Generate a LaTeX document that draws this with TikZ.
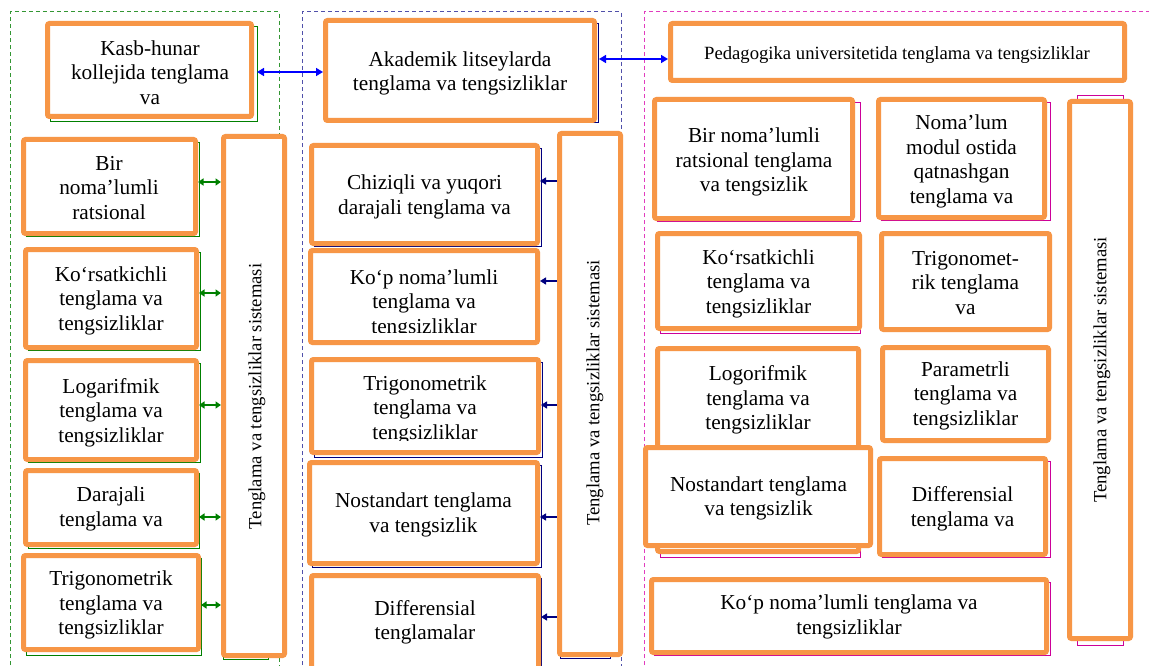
\documentclass[tikz,border=0pt]{standalone}
\usepackage{fontspec}
\setmainfont{Liberation Serif}
\usetikzlibrary{arrows.meta,calc}
\definecolor{orng}{HTML}{F79646}
\definecolor{gframe}{RGB}{51,150,51}
\definecolor{bframe}{RGB}{80,80,170}
\definecolor{mframe}{RGB}{225,60,190}
\definecolor{gshad}{RGB}{0,128,0}
\definecolor{nshad}{RGB}{0,0,128}
\definecolor{mshad}{RGB}{204,0,153}
\definecolor{barrow}{RGB}{0,0,255}
\definecolor{garrow}{RGB}{0,128,0}
\definecolor{narrow}{RGB}{0,0,128}
% name, L, T, R, B, shadow style, shadow dx, shadow dy
\newcommand\obx[8]{%
  \draw[#6, line width=0.9pt] (#2+5,#3+5) rectangle (#4+#7,#5+#8);
  \node[obox, minimum width={(#4-#2-5)*1pt}, minimum height={(#5-#3-5)*1pt}] (#1) at ({(#2+#4)/2},{(#3+#5)/2}) {};
}
\begin{document}
\begin{tikzpicture}[x=1pt,y=-1pt,
  obox/.style={draw=orng, line width=5pt, rounded corners=2pt, fill=white, inner sep=0pt},
  txt/.style={font=\fontsize{21.3}{24.5}\selectfont, align=center, inner sep=0pt},
  stxt/.style={font=\fontsize{18.67}{21.5}\selectfont, align=center, inner sep=0pt},
  vtxt/.style={font=\fontsize{18.67}{21.5}\selectfont, rotate=90, inner sep=0pt},
  frame/.style={line width=1pt, dash pattern=on 4pt off 3pt},
  barr/.style={draw=barrow, line width=1.6pt, {Triangle[length=7pt,width=8pt]}-{Triangle[length=7pt,width=8pt]}},
  garr/.style={draw=garrow, line width=1.6pt, {Triangle[length=5.5pt,width=7pt]}-{Triangle[length=5.5pt,width=7pt]}},
  narr/.style={draw=narrow, line width=1.4pt, -{Triangle[length=6pt,width=7pt]}}
]
\useasboundingbox (0,0) rectangle (1149,666);
\clip (0,0) rectangle (1149,666);
\fill[white] (0,0) rectangle (1149,666);
% dashed frames
\draw[frame, gframe] (10,700) -- (10,12) -- (279,12) -- (279,700);
\draw[frame, bframe] (302,700) -- (302,12) -- (621,12) -- (621,700);
\draw[frame, mframe] (644,700) -- (644,12) -- (1160,12);
% top boxes
\obx{kasb}{45}{21}{254}{119}{gshad}{3}{2.3}
\obx{akad}{323}{18}{597}{123}{nshad}{1.7}{-1}
\obx{ped}{668}{21}{1127}{83}{draw=none}{0}{0}
% left column
\obx{L1}{21}{137}{198}{236}{gshad}{1.5}{0}
\obx{L2}{23}{247}{199}{350}{gshad}{1.2}{0}
\obx{L3}{23}{358}{199}{462}{gshad}{1.2}{0}
\obx{L4}{23}{468}{199}{547}{gshad}{0.5}{1}
\obx{L5}{21}{553}{201}{652}{gshad}{0}{3}
\draw[gshad, line width=0.9pt] (223,140) rectangle (268,659.5);
\obx{LV}{221}{134}{287}{658}{draw=none}{0}{0}
% middle column
\obx{M1}{309}{143}{540}{246}{nshad}{1}{0}
\obx{M2}{308}{248}{540}{345}{draw=none}{0}{0}
\obx{M3}{309}{357}{541}{455}{nshad}{1.5}{2}
\obx{M4}{307}{460}{540}{566}{nshad}{1}{1}
\obx{M5}{309}{573}{541}{680}{nshad}{0.7}{0}
\draw[nshad, line width=0.9pt] (560,140) rectangle (610,658.3);
\obx{MV}{557}{131}{623}{657}{draw=none}{0}{0}
% right column
\obx{R1}{652}{97}{855}{221}{mshad}{5}{0}
\obx{R2}{876}{97}{1047}{220}{mshad}{3}{0}
\draw[mshad, line width=1pt] (1077,96) rectangle (1123,645);
\obx{RV}{1067}{99}{1133}{641}{draw=none}{0}{0}
\obx{R3}{655}{231}{862}{331}{mshad}{-2}{2.3}
\obx{R4}{879}{231}{1052}{332}{draw=none}{0}{0}
\obx{R5}{655}{346}{861}{554}{mshad}{-1}{3.3}
\obx{R6}{880}{345}{1051}{443}{draw=none}{0}{0}
\obx{R7}{643}{445}{873}{548}{draw=none}{0}{0}
\obx{R8}{877}{456}{1048}{557}{mshad}{2.7}{0}
\obx{R9}{649}{577}{1049}{655}{mshad}{1}{0}
% texts
\node[txt] (tkasb) at (150,72.3) {Kasb-hunar\\kollejida tenglama\\va};
\node[txt] (takad) at (460,73.5) {Akademik litseylarda\\tenglama va tengsizliklar};
\node[stxt] (tped) at (897,55) {Pedagogika universitetida tenglama va tengsizliklar};
\node[txt] (tL1) at (109,187.8) {Bir\\noma’lumli\\ratsional};
\node[txt] (tL2) at (111,300.5) {Ko‘rsatkichli\\tenglama va\\tengsizliklar};
\node[txt] (tL3) at (111,412.5) {Logarifmik\\tenglama va\\tengsizliklar};
\node[txt] (tL4) at (111,509) {Darajali\\tenglama va};
\node[txt] (tL5) at (111,605) {Trigonometrik\\tenglama va\\tengsizliklar};
\node[vtxt] (tLV) at (257,396.5) {Tenglama va tengsizliklar sistemasi};
\node[txt] (tM1) at (424.5,196.7) {Chiziqli va yuqori\\darajali tenglama va};
\begin{scope}
\clip (310,250) rectangle (540,332.5);
\node[txt] (tM2) at (424,303.5) {Ko‘p noma’lumli\\tenglama va\\tengsizliklar};
\end{scope}
\begin{scope}
\clip (310,359) rectangle (540,440.3);
\node[txt] (tM3) at (425,409.5) {Trigonometrik\\tenglama va\\tengsizliklar};
\end{scope}
\node[txt] (tM4) at (423.5,515) {Nostandart tenglama\\va tengsizlik};
\node[txt] (tM5) at (425,622.2) {Differensial\\tenglamalar};
\node[vtxt] (tMV) at (595,393) {Tenglama va tengsizliklar sistemasi};
\node[txt] (tR1) at (754,162.2) {Bir noma’lumli\\ratsional tenglama\\va tengsizlik};
\node[txt] (tR2) at (961.5,161.4) {Noma’lum\\modul ostida\\qatnashgan\\tenglama va};
\node[txt] (tR3) at (758.5,283.9) {Ko‘rsatkichli\\tenglama va\\tengsizliklar};
\node[txt] (tR4) at (965.5,282.7) {Trigonomet-\\rik tenglama\\va};
\node[txt] (tR5) at (758,400) {Logorifmik\\tenglama va\\tengsizliklar};
\node[txt] (tR6) at (965.5,395.9) {Parametrli\\tenglama va\\tengsizliklar};
\node[txt] (tR7) at (758.5,498.4) {Nostandart tenglama\\va tengsizlik};
\node[txt] (tR8) at (962.5,508.9) {Differensial\\tenglama va};
\node[txt] (tR9) at (849,616.7) {Ko‘p noma’lumli tenglama va\\tengsizliklar};
\node[vtxt] (tRV) at (1102,370) {Tenglama va tengsizliklar sistemasi};
% connectors
\draw[barr, shorten <=3pt] (kasb.east |- 0,72) -- (akad.west |- 0,72);
\draw[barr, shorten <=2pt] (akad.east |- 0,59) -- (ped.west |- 0,59);
\foreach \b/\yy in {L1/182, L2/293, L3/405, L4/517, L5/605}
  \draw[garr] (\b.east |- 0,\yy) -- (LV.west |- 0,\yy);
\foreach \b/\yy in {M1/181, M2/281, M3/405, M4/517, M5/617}
  \draw[narr] (MV.west |- 0,\yy) -- (\b.east |- 0,\yy);
\end{tikzpicture}
\end{document}
